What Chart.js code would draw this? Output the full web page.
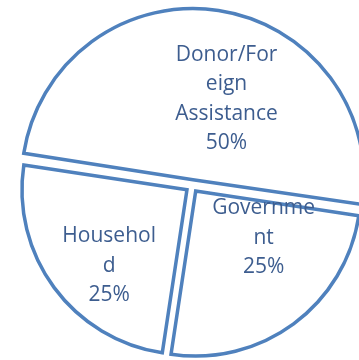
<!DOCTYPE html>
<html>
<head>
<meta charset="utf-8">
<script src="https://cdn.jsdelivr.net/npm/chart.js@4"></script>
<style>
  html, body { margin: 0; padding: 0; background: #ffffff; }
  #wrap { width: 359px; height: 360px; position: relative; overflow: hidden; }
</style>
</head>
<body>
<div id="wrap"><canvas id="fundingChart" width="359" height="360"></canvas></div>
<script>
// Funding sources
const categories = ["Donor/Foreign Assistance", "Government", "Household"];
const shares = [50, 25, 25];

const LINE_BLUE = "#4f81bd";
const TEXT_BLUE = "#3d5d8f";
const LABEL_FONT = "21px 'Open Sans'";

// where each label sits, relative to its own (exploded) slice centre:
// angle shift from the slice mid-angle (deg) and distance as a share of radius
const labelPlacement = [
  { turn: 14, dist: 0.53 },
  { turn: -19, dist: 0.50 },
  { turn: -8, dist: 0.66 }
];

// break long words the way a narrow data label box does
function wrapChars(ctx, text, maxWidth) {
  const lines = [];
  for (const word of text.split(" ")) {
    let cur = "";
    for (const ch of word) {
      if (cur && ctx.measureText(cur + ch).width > maxWidth) {
        lines.push(cur);
        cur = ch;
      } else {
        cur += ch;
      }
    }
    lines.push(cur);
  }
  return lines;
}

const sliceLabels = {
  id: "sliceLabels",
  afterDatasetsDraw(chart) {
    const { ctx } = chart;
    const meta = chart.getDatasetMeta(0);
    const total = shares.reduce((a, b) => a + b, 0);
    ctx.save();
    ctx.font = LABEL_FONT;
    ctx.fillStyle = TEXT_BLUE;
    ctx.textAlign = "center";
    ctx.textBaseline = "middle";
    meta.data.forEach((arc, i) => {
      const p = arc.getProps(["x", "y", "startAngle", "endAngle", "outerRadius"], true);
      const off = (arc.options.offset || 0) / 4;
      const mid = (p.startAngle + p.endAngle) / 2;
      const cx = p.x + Math.cos(mid) * off;
      const cy = p.y + Math.sin(mid) * off;
      const a = mid + labelPlacement[i].turn * Math.PI / 180;
      const r = p.outerRadius * labelPlacement[i].dist;
      const lx = cx + Math.cos(a) * r;
      const ly = cy + Math.sin(a) * r;
      const lines = wrapChars(ctx, categories[i], 104);
      lines.push(Math.round(shares[i] / total * 100) + "%");
      const lh = 29.5;
      lines.forEach((ln, k) => {
        ctx.fillText(ln, lx, ly + (k - (lines.length - 1) / 2) * lh);
      });
    });
    ctx.restore();
  }
};

new Chart(document.getElementById("fundingChart"), {
  type: "pie",
  data: {
    labels: categories,
    datasets: [{
      data: shares,
      backgroundColor: "#ffffff",
      borderColor: LINE_BLUE,
      borderWidth: 3.5,
      borderJoinStyle: "miter",
      offset: 25,
      radius: 165,
      clip: false
    }]
  },
  options: {
    responsive: false,
    animation: false,
    rotation: 278.6,
    layout: { padding: { left: 25, top: 12, right: 0, bottom: 0 } },
    plugins: { legend: { display: false }, tooltip: { enabled: false } }
  },
  plugins: [sliceLabels]
});
</script>
</body>
</html>
